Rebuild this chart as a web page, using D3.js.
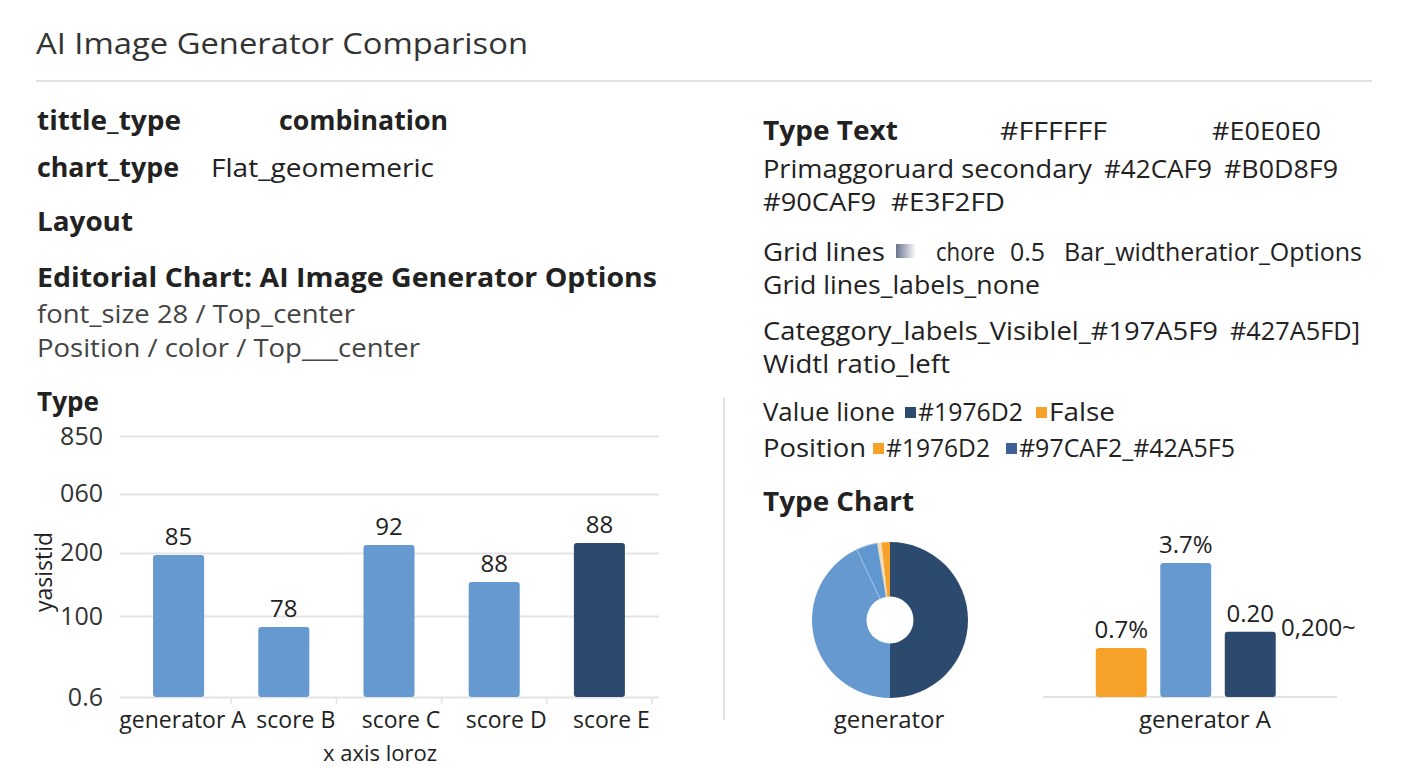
<!DOCTYPE html>
<html>
<head>
<meta charset="utf-8">
<script src="https://cdn.jsdelivr.net/npm/d3@7"></script>
<style>
  html, body { margin: 0; padding: 0; background: #ffffff; }
  svg { display: block; font-family: "Open Sans", "Noto Sans", sans-serif; }
</style>
</head>
<body>
<div id="chart"></div>
<script>
// main bar chart
const categories = ["generator A", "score B", "score C", "score D", "score E"];
const scores = [54.4, 26.8, 58.2, 44.1, 59.0];          // bar heights in axis units
const scoreLabels = ["85", "78", "92", "88", "88"];
const yTickValues = [0, 31, 55.2, 77.8, 100];
const yTickLabels = ["0.6", "100", "200", "060", "850"];

// donut
const sliceNames = ["navy", "blue", "blue2", "pale", "orange"];
const sliceShares = [50, 43, 4.4, 0.85, 1.75];

// small bar chart
const miniNames = ["orange", "blue", "navy"];
const miniValues = [1.35, 3.7, 1.8];
const miniLabels = ["0.7%", "3.7%", "0.20"];

const width = 1408, height = 768;
const navy = "#2c4a6e", blue = "#6699d0", orange = "#f6a229";

const svg = d3.select('#chart')
  .append('svg')
  .attr('width', width)
  .attr('height', height);

const defs = svg.append('defs');
const grad = defs.append('linearGradient').attr('id', 'gridSwatch');
grad.append('stop').attr('offset', '0%').attr('stop-color', '#69738e');
grad.append('stop').attr('offset', '100%').attr('stop-color', '#ffffff');

function put(g, str, x, y, o = {}) {
  const t = g.append('text')
    .attr('x', x)
    .attr('y', y)
    .attr('font-size', o.size || 26)
    .attr('font-weight', o.bold ? 700 : 400)
    .attr('fill', o.fill || '#222')
    .attr('text-anchor', o.anchor || 'start')
    .text(str);
  if (o.w) t.attr('textLength', o.w).attr('lengthAdjust', 'spacingAndGlyphs');
  return t;
}

// header
put(svg, "AI Image Generator Comparison", 36, 54, { size: 29, fill: '#333', w: 492 });
svg.append('line')
  .attr('x1', 36).attr('x2', 1372)
  .attr('y1', 81).attr('y2', 81)
  .attr('stroke', '#e2e2e2')
  .attr('stroke-width', 2);

// spec text, left column
const leftRows = [
  { y: 130, segs: [["tittle_type", 37, 181, true], ["combination", 279, 448, true]] },
  { y: 177, segs: [["chart_type", 37, 179, true], ["Flat_geomemeric", 211, 434]] },
  { y: 231, segs: [["Layout", 37, 133, true]] },
  { y: 287, segs: [["Editorial Chart: AI Image Generator Options", 37, 657, true]] },
  { y: 323, segs: [["font_size 28 /  Top_center", 37, 355]], fill: '#444' },
  { y: 357, segs: [["Position / color / Top___center", 37, 420]], fill: '#444' },
  { y: 411, segs: [["Type", 37, 99, true]] }
];

// spec text, right column
const rightRows = [
  { y: 140, segs: [["Type Text", 763, 898, true], ["#FFFFFF", 1000, 1107], ["#E0E0E0", 1212, 1321]] },
  { y: 178, segs: [["Primaggoruard secondary", 763, 1092], ["#42CAF9", 1104, 1212], ["#B0D8F9", 1224, 1338]] },
  { y: 211, segs: [["#90CAF9", 763, 876], ["#E3F2FD", 891, 1005]] },
  { y: 261, segs: [["Grid lines", 763, 885], ["chore", 936, 995], ["0.5", 1010, 1045], ["Bar_widtheratior_Options", 1064, 1362]] },
  { y: 294, segs: [["Grid lines_labels_none", 763, 1040]] },
  { y: 340, segs: [["Categgory_labels_Visiblel_#197A5F9", 763, 1218], ["#427A5FD]", 1230, 1360]] },
  { y: 373, segs: [["Widtl ratio_left", 763, 950]] },
  { y: 421, segs: [["Value lione", 763, 895], ["#1976D2", 918, 1023], ["False", 1049, 1115]] },
  { y: 457, segs: [["Position", 763, 866], ["#1976D2", 886, 990], ["#97CAF2_#42A5F5", 1019, 1235]] },
  { y: 511, segs: [["Type Chart", 763, 914, true]] }
];

const spec = svg.append('g');
leftRows.concat(rightRows).forEach(r => {
  r.segs.forEach(([t, x0, x1, b]) => {
    put(spec, t, x0, r.y, { bold: b, w: x1 - x0, fill: r.fill });
  });
});

// little colour swatches inside the spec text
spec.append('rect').attr('x', 896).attr('y', 244).attr('width', 20).attr('height', 14)
  .attr('fill', 'url(#gridSwatch)');
[[905, 407, navy], [1036, 407, orange], [873, 443, orange], [1006, 443, '#3f5f96']]
  .forEach(([x, y, c]) => {
    spec.append('rect').attr('x', x).attr('y', y).attr('width', 11).attr('height', 11).attr('fill', c);
  });

// divider
svg.append('line')
  .attr('x1', 724).attr('x2', 724)
  .attr('y1', 398).attr('y2', 720)
  .attr('stroke', '#e2e2e2')
  .attr('stroke-width', 2);

// ---------- main bar chart ----------
const x = d3.scaleBand()
  .domain(categories)
  .range([126, 652])
  .paddingInner(0.515)
  .paddingOuter(0.2575);

const y = d3.scaleLinear()
  .domain([0, 100])
  .range([697, 436]);

const yAxis = svg.append('g')
  .attr('transform', 'translate(120,0)')
  .call(d3.axisLeft(y)
    .tickValues(yTickValues)
    .tickFormat((d, i) => yTickLabels[i])
    .tickSize(-539)
    .tickPadding(17))
  .attr('font-family', null)
  .attr('font-size', null);
yAxis.select('.domain').remove();
yAxis.selectAll('.tick line').attr('stroke', '#e4e4e4').attr('stroke-width', 2);
yAxis.selectAll('.tick text')
  .attr('font-size', 25)
  .attr('fill', '#333');

// boundary ticks on the baseline
const step = x.step();
svg.append('g')
  .selectAll('line')
  .data(categories)
  .join('line')
  .attr('x1', (d, i) => 126 + step * (i + 1))
  .attr('x2', (d, i) => 126 + step * (i + 1))
  .attr('y1', 697)
  .attr('y2', 704)
  .attr('stroke', '#e4e4e4')
  .attr('stroke-width', 1.5);

const xAxis = svg.append('g')
  .attr('transform', 'translate(0,697)')
  .call(d3.axisBottom(x).tickSize(0).tickPadding(15))
  .attr('font-family', null)
  .attr('font-size', null);
xAxis.select('.domain').remove();
xAxis.selectAll('.tick text')
  .attr('font-size', 23)
  .attr('fill', '#222')
  .attr('dx', (d, i) => i === 0 ? 4 : 12);

svg.append('g')
  .selectAll('rect')
  .data(scores)
  .join('rect')
  .attr('x', (d, i) => x(categories[i]))
  .attr('y', d => y(d))
  .attr('width', x.bandwidth())
  .attr('height', d => y(0) - y(d))
  .attr('rx', 3)
  .attr('fill', (d, i) => i === categories.length - 1 ? navy : blue);

svg.append('g')
  .selectAll('text')
  .data(scores)
  .join('text')
  .attr('x', (d, i) => x(categories[i]) + x.bandwidth() / 2)
  .attr('y', d => y(d) - 10)
  .attr('text-anchor', 'middle')
  .attr('font-size', 24)
  .attr('fill', '#222')
  .text((d, i) => scoreLabels[i]);

put(svg, "yasistid", 0, 0, { size: 23, anchor: 'middle' })
  .attr('transform', 'translate(52,572) rotate(-90)');
put(svg, "x axis loroz", 380, 761, { size: 22, anchor: 'middle' });

// ---------- donut ----------
const sliceColor = d3.scaleOrdinal()
  .domain(sliceNames)
  .range([navy, blue, '#6197d0', '#f3dcb4', orange]);

const pie = d3.pie().sort(null).value(d => d);
const arcGen = d3.arc().innerRadius(23.5).outerRadius(78);

const donut = svg.append('g').attr('transform', 'translate(890,620)');
donut.selectAll('path')
  .data(pie(sliceShares))
  .join('path')
  .attr('d', arcGen)
  .attr('fill', (d, i) => sliceColor(sliceNames[i]))
  .attr('stroke', (d, i) => i === 2 ? '#a3c3e6' : 'none')
  .attr('stroke-width', 1);
put(svg, "generator", 889, 728, { size: 24, anchor: 'middle' });

// ---------- small bar chart ----------
const mx = d3.scaleBand()
  .domain(miniNames)
  .range([1089, 1282.5])
  .paddingInner(0.21)
  .paddingOuter(0.105);
const my = d3.scaleLinear().domain([0, 3.7]).range([697, 563]);
const miniColor = d3.scaleOrdinal().domain(miniNames).range([orange, blue, navy]);

svg.append('line')
  .attr('x1', 1043).attr('x2', 1337)
  .attr('y1', 697).attr('y2', 697)
  .attr('stroke', '#e2e2e2')
  .attr('stroke-width', 2);

svg.append('g')
  .selectAll('rect')
  .data(miniValues)
  .join('rect')
  .attr('x', (d, i) => mx(miniNames[i]))
  .attr('y', d => my(d))
  .attr('width', mx.bandwidth())
  .attr('height', d => my(0) - my(d))
  .attr('rx', 3)
  .attr('fill', (d, i) => miniColor(miniNames[i]));

svg.append('g')
  .selectAll('text')
  .data(miniValues)
  .join('text')
  .attr('x', (d, i) => mx(miniNames[i]) + mx.bandwidth() / 2)
  .attr('y', d => my(d) - 10)
  .attr('text-anchor', 'middle')
  .attr('font-size', 24)
  .attr('fill', '#222')
  .text((d, i) => miniLabels[i]);

put(svg, "0,200~", 1281, 636, { size: 24 });
put(svg, "generator A", 1205, 728, { size: 24, anchor: 'middle' });
</script>
</body>
</html>
